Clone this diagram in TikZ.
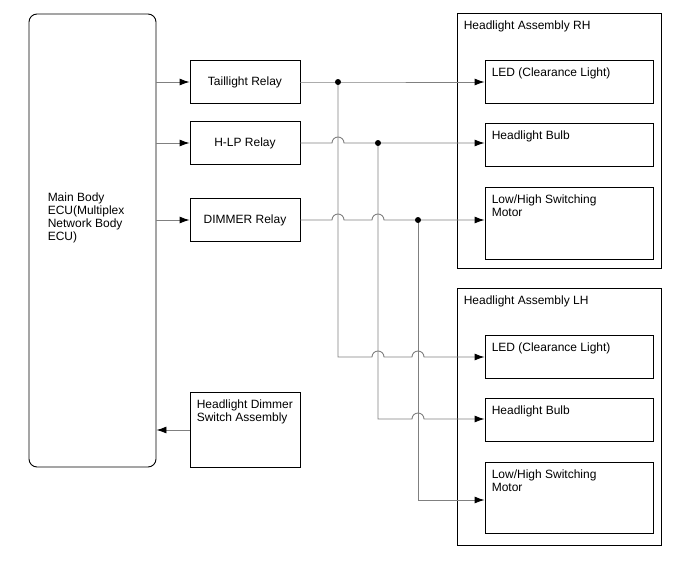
\documentclass[tikz,border=0pt]{standalone}
\usepackage{fontspec}
\setmainfont{Liberation Sans}
\usetikzlibrary{arrows.meta,calc}

\begin{document}
\begin{tikzpicture}[x=1pt, y=-1pt, font=\fontsize{12}{13}\selectfont,
    box/.style={draw, line width=0.9pt, inner sep=0pt},
    txt/.style={anchor=north west, align=left, inner xsep=7pt, inner ysep=8pt},
    wire/.style={draw=black!50, line width=0.9pt},
    tip/.style={-{Latex[length=10pt,width=7pt,black]}}]
    \useasboundingbox (0,0) rectangle (688,560);
    % ECU and relays
    \node[box, rounded corners=8pt, minimum width=127, minimum height=453,
        label={[txt, anchor=west, xshift=12pt, yshift=23pt]west:Main Body\\ECU(Multiplex\\Network Body\\ECU)}] (ecu) at (92.5,240.5) {};
    \node[box, minimum width=110, minimum height=43] (tail) at (245,82) {Taillight Relay};
    \node[box, minimum width=110, minimum height=43] (hlp) at (245,143) {H-LP Relay};
    \node[box, minimum width=110, minimum height=43] (dim) at (245,220) {DIMMER Relay};
    \node[box, minimum width=110, minimum height=75,
        label={[txt]north west:Headlight Dimmer\\Switch Assembly}] (sw) at (245,430) {};
    % headlight assemblies
    \node[box, minimum width=204, minimum height=255,
        label={[txt]north west:Headlight Assembly RH}] (asmR) at (559,140.5) {};
    \node[box, minimum width=168, minimum height=43,
        label={[txt]north west:LED (Clearance Light)}] (ledR) at (569,81.5) {};
    \node[box, minimum width=168, minimum height=43,
        label={[txt]north west:Headlight Bulb}] (hbR) at (569,145) {};
    \node[box, minimum width=168, minimum height=72,
        label={[txt]north west:Low/High Switching\\Motor}] (motR) at (569,223) {};
    \node[box, minimum width=204, minimum height=257,
        label={[txt]north west:Headlight Assembly LH}] (asmL) at (559,416.5) {};
    \node[box, minimum width=168, minimum height=43,
        label={[txt]north west:LED (Clearance Light)}] (ledL) at (569,356.5) {};
    \node[box, minimum width=168, minimum height=43,
        label={[txt]north west:Headlight Bulb}] (hbL) at (569,420) {};
    \node[box, minimum width=168, minimum height=71,
        label={[txt]north west:Low/High Switching\\Motor}] (motL) at (569,497.5) {};
    % junctions and corners
    \coordinate (j1) at (338,82);
    \coordinate (j2) at (378,143);
    \coordinate (j3) at (418,220);
    \coordinate (c1) at (338,357);
    \coordinate (c2) at (378,419);
    \coordinate (c3) at (418,500);
    % ECU outputs
    \draw[wire, tip] (ecu.east |- tail.west) -- (tail.west);
    \draw[wire, tip] (ecu.east |- hlp.west) -- (hlp.west);
    \draw[wire, tip] (ecu.east |- dim.west) -- (dim.west);
    \draw[wire, tip] (sw.west) -- (sw.west -| ecu.east);
    % relay wiring
    \draw[wire, tip] (tail.east) -- (j1) -- (j1 -| ledR.west);
    \draw[wire, tip] (j1) -- (c1) -- ($(c1 -| j2)+(-6,0)$) arc (180:360:6)
        -- ($(c1 -| j3)+(-6,0)$) arc (180:360:6) -- (c1 -| ledL.west);
    \draw[wire, tip] (hlp.east) -- ($(hlp.east -| j1)+(-6,0)$) arc (180:360:6)
        -- (j2) -- (j2 -| hbR.west);
    \draw[wire, tip] (j2) -- (c2) -- ($(c2 -| j3)+(-6,0)$) arc (180:360:6)
        -- (c2 -| hbL.west);
    \draw[wire, tip] (dim.east) -- ($(dim.east -| j1)+(-6,0)$) arc (180:360:6)
        -- ($(dim.east -| j2)+(-6,0)$) arc (180:360:6) -- (j3) -- (j3 -| motR.west);
    \draw[wire, tip] (j3) -- (c3) -- (c3 -| motL.west);
    \fill (j1) circle (3pt);
    \fill (j2) circle (3pt);
    \fill (j3) circle (3pt);
\end{tikzpicture}
\end{document}
